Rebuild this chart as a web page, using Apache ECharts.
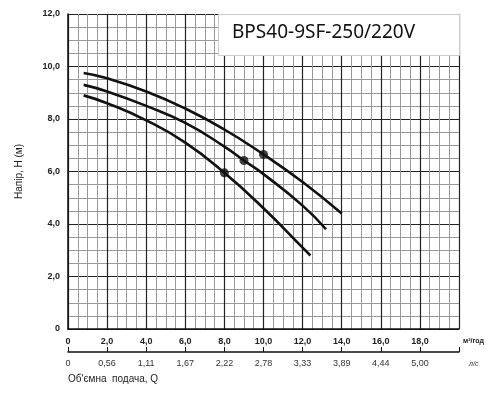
<!DOCTYPE html>
<html><head><meta charset="utf-8">
<script src="https://cdn.jsdelivr.net/npm/echarts@6/dist/echarts.min.js"></script>
<style>body{margin:0}#c{width:500px;height:400px}</style></head>
<body><div id="c"></div>
<script>
var curveTop = [[0.8,9.75],[2,9.55],[4,9.05],[6,8.4],[8,7.6],[10,6.65],[12,5.6],[14,4.4]];
var curveMid = [[0.8,9.3],[2,9.05],[4,8.5],[6,7.85],[8,6.95],[9,6.42],[10,5.9],[12,4.7],[13.2,3.8]];
var curveLow = [[0.8,8.9],[2,8.6],[4,7.95],[6,7.1],[8,5.95],[10,4.6],[12,3.1],[12.4,2.8]];
var dutyPoints = [[10,6.65],[9,6.42],[8,5.95]];
var lsLabels = ["0","0,56","1,11","1,67","2,22","2,78","3,33","3,89","4,44","5,00",""];
var title = "BPS40-9SF-250/220V";
var chart = echarts.init(document.getElementById('c'));
function line(d){return {type:'line',data:d,smooth:true,showSymbol:false,lineStyle:{color:'#111',width:2.6},xAxisIndex:0,yAxisIndex:0,z:5};}
var fmt = function(v){return v.toFixed(1).replace('.',',');};
chart.setOption({
  animation:false,
  grid:{left:68,right:41,top:14,bottom:71},
  xAxis:[{type:'value',min:0,max:20,interval:2,
    axisLine:{onZero:false,lineStyle:{color:'#111',width:1.5}},axisTick:{show:false},
    axisLabel:{formatter:function(v){return v===0?'0':(v===20?'':fmt(v));},color:'#222',fontWeight:'bold',fontSize:9,margin:8},
    splitLine:{lineStyle:{color:'#222',width:1.2}},
    minorTick:{show:false,splitNumber:4},minorSplitLine:{show:true,lineStyle:{color:'#999',width:1}},
    name:'м³/год',nameLocation:'end',nameGap:4,nameTextStyle:{fontSize:7,fontWeight:'bold',color:'#222',verticalAlign:'top',padding:[9,0,0,0]}},
   {type:'value',min:0,max:20,interval:2,position:'bottom',offset:23,
    axisLine:{show:true,onZero:false,lineStyle:{color:'#111',width:1.5}},axisTick:{show:true,inside:true,length:5,lineStyle:{color:'#111'}},
    axisLabel:{formatter:function(v){return lsLabels[Math.round(v/2)];},color:'#333',fontSize:9,margin:7},
    splitLine:{show:false},
    name:'л/с',nameLocation:'end',nameGap:10,nameTextStyle:{fontSize:7,fontStyle:'italic',color:'#333',verticalAlign:'top',padding:[9,0,0,0]}}],
  yAxis:{type:'value',min:0,max:12,interval:2,
    axisLine:{show:true,onZero:false,lineStyle:{color:'#111',width:1.5}},axisTick:{show:false},
    axisLabel:{formatter:function(v){return v===0?'0':fmt(v);},color:'#222',fontWeight:'bold',fontSize:9},
    splitLine:{lineStyle:{color:'#222',width:1.2}},
    minorTick:{show:false,splitNumber:4},minorSplitLine:{show:true,lineStyle:{color:'#999',width:1}},
    name:'Напір, H (м)',nameLocation:'middle',nameGap:44,nameTextStyle:{fontSize:10,color:'#222'}},
  series:[line(curveTop),line(curveMid),line(curveLow),
    {type:'scatter',data:dutyPoints,symbolSize:9,itemStyle:{color:'#111'},z:6}],
  graphic:[
    {type:'rect',left:218,top:14,shape:{width:241,height:41},style:{fill:'#fff',stroke:'#ccc',lineWidth:1},z:10},
    {type:'text',left:232,top:23,style:{text:title,fontSize:19,fontFamily:'Noto Sans',fill:'#111'},z:11},
    {type:'text',left:68,top:374,style:{text:"Об'ємна  подача, Q",fontSize:10,fill:'#222'},z:11}
  ]
});
</script></body></html>
